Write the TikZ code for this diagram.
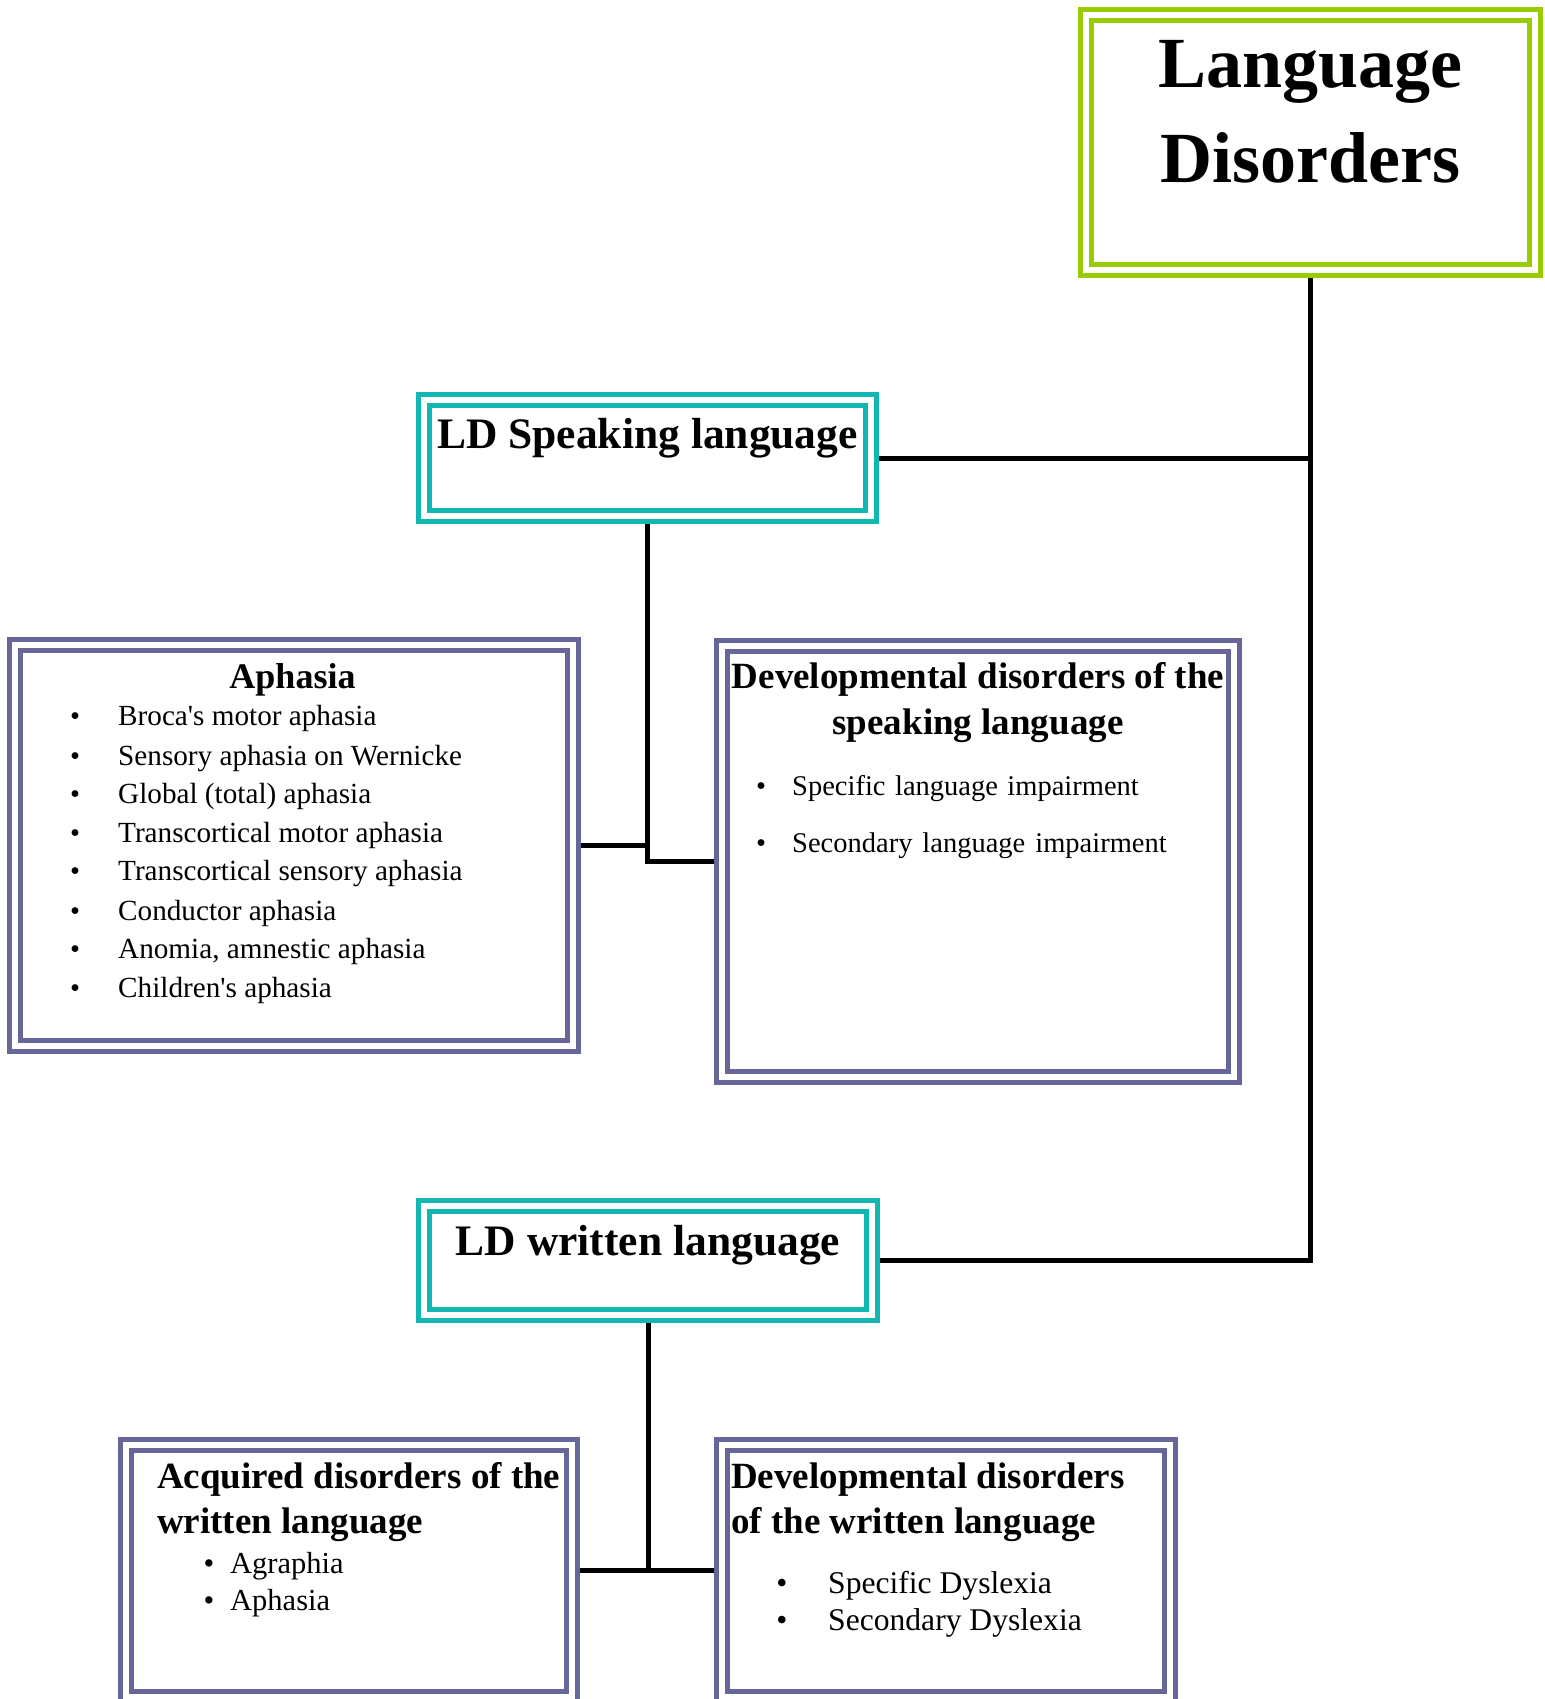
\documentclass[tikz,border=0pt]{standalone}
\usepackage{fontspec}
\setmainfont{Liberation Serif}
\usetikzlibrary{backgrounds}
\definecolor{ldgreen}{RGB}{153,204,0}
\definecolor{ldteal}{RGB}{18,183,178}
\definecolor{ldpurple}{RGB}{102,102,153}
\begin{document}
\begin{tikzpicture}[x=1pt,y=-1pt,
  dbox/.style={rectangle, draw=#1, line width=5pt, double=white, double distance=6pt,
               fill=white, inner sep=0pt, outer sep=0pt},
  conn/.style={line width=5pt, draw=black},
  lbl/.style={anchor=base, inner sep=0pt},
  lbll/.style={anchor=base west, inner sep=0pt},
  bul/.style={anchor=base, inner sep=0pt},
  bigf/.style={font=\fontsize{72}{86}\selectfont\bfseries},
  midf/.style={font=\fontsize{43.5}{52}\selectfont\bfseries},
  headf/.style={font=\fontsize{37}{44}\selectfont\bfseries},
  itemf/.style={font=\fontsize{28.5}{34}\selectfont},
  itema/.style={font=\fontsize{29.2}{34}\selectfont},
  itemg/.style={font=\fontsize{30.5}{36}\selectfont},
  itemh/.style={font=\fontsize{31.6}{37}\selectfont}]
\useasboundingbox (0,0) rectangle (1544,1699);

% boxes
\node[dbox=ldgreen, minimum width=449pt, minimum height=255pt] (ld) at (1310.5,142.5) {};
\node[dbox=ldteal, minimum width=447pt, minimum height=116pt] (speak) at (647.5,458) {};
\node[dbox=ldteal, minimum width=448pt, minimum height=109pt] (written) at (648,1260.5) {};
\node[dbox=ldpurple, minimum width=558pt, minimum height=401pt] (aph) at (294,845.5) {};
\node[dbox=ldpurple, minimum width=512pt, minimum height=431pt] (devs) at (978,861.5) {};
\node[dbox=ldpurple, minimum width=446pt, minimum height=252pt] (acq) at (349,1570.5) {};
\node[dbox=ldpurple, minimum width=448pt, minimum height=252pt] (devw) at (946,1570.5) {};

% connectors
\begin{scope}[on background layer]
\draw[conn] (ld.south) |- (written.east);
\draw[conn] (speak.east) -- (speak.east -| ld.south);
\draw[conn] (speak.south) |- (devs.west);
\draw[conn] (aph.east) -- (aph.east -| speak.south);
\draw[conn] (written.south) |- (devw.west);
\draw[conn] (acq.east) -- (acq.east -| written.south);
\end{scope}

% titles
\node[lbl, bigf] (ldt1) at (1310.5,88) {Language};
\node[lbl, bigf] (ldt2) at (1310.5,183) {Disorders};
\node[lbl, midf] (spt) at (647.5,448.5) {LD Speaking language};
\node[lbl, midf] (wrt) at (648,1255) {LD written language};

% Aphasia
\node[lbl, font=\fontsize{36}{43}\selectfont\bfseries] (apht) at (292.5,688) {Aphasia};
\foreach \yy/\tt [count=\i] in {725/{Broca\textquotesingle s motor aphasia},
    765/{Sensory aphasia on Wernicke},
    803/{Global (total) aphasia},
    842/{Transcortical motor aphasia},
    880/{Transcortical sensory aphasia},
    920/{Conductor aphasia},
    958/{Anomia, amnestic aphasia},
    997/{Children\textquotesingle s aphasia}}{
  \node[bul, itemf] (aphb\i) at (75,\yy) {\textbullet};
  \node[lbll, itema] (aphi\i) at (118,\yy) {\tt};
}

% Developmental disorders of the speaking language
\node[lbl, headf] (devst1) at (978,688) {Developmental disorders of the};
\node[lbl, headf] (devst2) at (978,734) {speaking language};
\node[bul, itemf] (devsb1) at (761,795) {\textbullet};
\node[lbll, itemf] (devsi1) at (792,795) {Specific\hspace{9.5pt}language\hspace{9.5pt}impairment};
\node[bul, itemf] (devsb2) at (761,852) {\textbullet};
\node[lbll, itemf] (devsi2) at (792,852) {Secondary\hspace{10pt}language\hspace{10pt}impairment};

% Acquired disorders of the written language
\node[lbll, headf] (acqt1) at (157,1488) {Acquired disorders of the};
\node[lbll, headf] (acqt2) at (157,1533) {written language};
\node[bul, itemg] (acqb1) at (209,1573) {\textbullet};
\node[lbll, itemg] (acqi1) at (230,1573) {Agraphia};
\node[bul, itemg] (acqb2) at (209,1610) {\textbullet};
\node[lbll, itemg] (acqi2) at (230,1610) {Aphasia};

% Developmental disorders of the written language
\node[lbll, headf] (devwt1) at (731,1488) {Developmental disorders};
\node[lbll, headf] (devwt2) at (731,1533) {of the written language};
\node[bul, itemh] (devwb1) at (782,1593) {\textbullet};
\node[lbll, itemh] (devwi1) at (828,1593) {Specific Dyslexia};
\node[bul, itemh] (devwb2) at (782,1630) {\textbullet};
\node[lbll, itemh] (devwi2) at (828,1630) {Secondary Dyslexia};
\end{tikzpicture}
\end{document}
